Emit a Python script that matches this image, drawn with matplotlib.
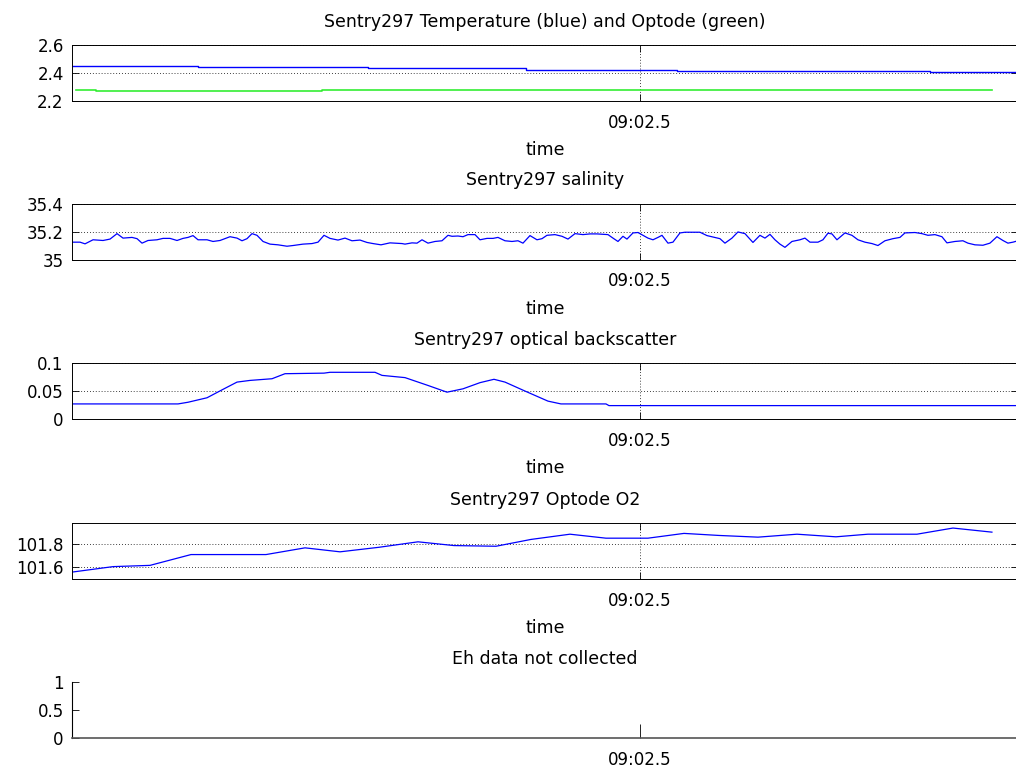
import matplotlib
matplotlib.use('Agg')
import matplotlib.pyplot as plt
from matplotlib.ticker import FixedLocator, FixedFormatter

# time axis: seconds after 09:00
t_start, t_end = 536.82, 546.28
tick_time = 542.5
tick_label = '09:02.5'

# temperature (step changes)
temp_t = [536.82, 538.08, 539.78, 541.36, 542.87, 544.16, 545.40, 546.28]
temp_v = [2.447, 2.440, 2.433, 2.425, 2.416, 2.411, 2.406, 2.406]
optode_temp_t = [536.86, 537.06, 539.32, 543.52, 546.02]
optode_temp_v = [2.278, 2.268, 2.276, 2.282, 2.282]

# salinity
sal_t = [536.82, 536.90, 536.95, 537.03, 537.13, 537.20, 537.27, 537.33, 537.42, 537.47,
         537.52, 537.58, 537.67, 537.73, 537.80, 537.87, 537.93, 537.98, 538.03, 538.08,
         538.17, 538.23, 538.30, 538.40, 538.47, 538.52, 538.57, 538.62, 538.67, 538.73,
         538.80, 538.88, 538.97, 539.03, 539.13, 539.22, 539.28, 539.34, 539.40, 539.48,
         539.55, 539.62, 539.70, 539.77, 539.83, 539.91, 540.00, 540.12, 540.15, 540.22,
         540.27, 540.32, 540.38, 540.45, 540.52, 540.58, 540.62, 540.68, 540.73, 540.78,
         540.85, 540.90, 540.97, 541.03, 541.08, 541.15, 541.22, 541.28, 541.33, 541.40,
         541.47, 541.52, 541.57, 541.65, 541.72, 541.78, 541.85, 541.93, 542.00, 542.07,
         542.18, 542.23, 542.28, 542.33, 542.37, 542.43, 542.48, 542.53, 542.58, 542.63,
         542.68, 542.72, 542.78, 542.83, 542.90, 542.95, 543.10, 543.17, 543.23, 543.30,
         543.35, 543.42, 543.48, 543.55, 543.63, 543.70, 543.75, 543.80, 543.85, 543.90,
         543.95, 544.02, 544.10, 544.15, 544.20, 544.28, 544.33, 544.38, 544.42, 544.47,
         544.55, 544.62, 544.68, 544.75, 544.82, 544.88, 544.95, 545.03, 545.10, 545.15,
         545.25, 545.32, 545.38, 545.45, 545.52, 545.57, 545.65, 545.73, 545.78, 545.85,
         545.93, 546.00, 546.07, 546.13, 546.18, 546.23, 546.28]
sal_v = [35.124, 35.124, 35.112, 35.141, 35.136, 35.146, 35.185, 35.153, 35.158, 35.149,
         35.117, 35.136, 35.141, 35.151, 35.151, 35.136, 35.151, 35.158, 35.171, 35.141,
         35.141, 35.129, 35.136, 35.163, 35.153, 35.134, 35.149, 35.185, 35.173, 35.129,
         35.110, 35.105, 35.095, 35.100, 35.110, 35.114, 35.124, 35.173, 35.151, 35.139,
         35.153, 35.134, 35.139, 35.122, 35.114, 35.105, 35.119, 35.114, 35.110, 35.119,
         35.117, 35.141, 35.117, 35.129, 35.134, 35.173, 35.166, 35.168, 35.163, 35.178,
         35.178, 35.141, 35.151, 35.151, 35.158, 35.134, 35.129, 35.134, 35.117, 35.171,
         35.141, 35.149, 35.173, 35.178, 35.166, 35.146, 35.185, 35.178, 35.183, 35.183,
         35.178, 35.153, 35.129, 35.166, 35.146, 35.190, 35.193, 35.173, 35.153, 35.141,
         35.158, 35.173, 35.117, 35.124, 35.190, 35.195, 35.195, 35.171, 35.161, 35.149,
         35.117, 35.153, 35.197, 35.185, 35.122, 35.173, 35.153, 35.180, 35.141, 35.110,
         35.087, 35.129, 35.141, 35.153, 35.124, 35.124, 35.141, 35.188, 35.183, 35.141,
         35.190, 35.173, 35.141, 35.124, 35.114, 35.100, 35.134, 35.149, 35.158, 35.190,
         35.193, 35.185, 35.173, 35.178, 35.163, 35.119, 35.129, 35.134, 35.117, 35.105,
         35.102, 35.117, 35.163, 35.136, 35.117, 35.124, 35.134]

# optical backscatter
obs_t = [536.82, 537.88, 537.98, 538.17, 538.34, 538.47, 538.60, 538.82, 538.95, 539.34,
         539.40, 539.85, 539.92, 540.15, 540.38, 540.57, 540.73, 540.90, 541.04, 541.15,
         541.35, 541.58, 541.71, 542.16, 542.19, 546.28]
obs_v = [0.027, 0.027, 0.030, 0.038, 0.054, 0.066, 0.069, 0.072, 0.081, 0.082,
         0.0835, 0.0835, 0.078, 0.074, 0.060, 0.048, 0.054, 0.065, 0.071, 0.066,
         0.050, 0.032, 0.027, 0.027, 0.024, 0.024]

# optode O2
o2_t = [536.83, 537.23, 537.60, 538.01, 538.76, 539.15, 539.50, 539.89, 540.28, 540.64,
        541.06, 541.41, 541.80, 542.16, 542.58, 542.94, 543.29, 543.68, 544.07, 544.46,
        544.78, 545.27, 545.63, 546.02]
o2_v = [101.556, 101.603, 101.614, 101.709, 101.709, 101.768, 101.733, 101.773, 101.821, 101.788,
        101.782, 101.842, 101.888, 101.853, 101.853, 101.895, 101.877, 101.862, 101.888, 101.865,
        101.888, 101.888, 101.942, 101.906]

titles = ['Sentry297 Temperature (blue) and Optode (green)', 'Sentry297 salinity',
          'Sentry297 optical backscatter', 'Sentry297 Optode O2', 'Eh data not collected']
ylims = [(2.2, 2.6), (35.0, 35.4), (0, 0.1), (101.494, 101.986), (0, 1)]
yticks = [[2.2, 2.4, 2.6], [35.0, 35.2, 35.4], [0, 0.05, 0.1], [101.6, 101.8], [0, 0.5, 1]]
yticklabels = [['2.2', '2.4', '2.6'], ['35', '35.2', '35.4'], ['0', '0.05', '0.1'],
               ['101.6', '101.8'], ['0', '0.5', '1']]

fig = plt.figure(figsize=(10.16, 7.71), dpi=100)
bottoms = [0.8690, 0.6634, 0.4565, 0.2490, 0.0424]
grid_style = dict(color='black', linestyle=(0, (1, 2.5)), linewidth=0.6)

axes = []
for i, b in enumerate(bottoms):
    ax = fig.add_axes([0.0709, b, 0.931, 0.0726])
    ax.set_xlim(t_start, t_end)
    ax.set_ylim(*ylims[i])
    ax.xaxis.set_major_locator(FixedLocator([tick_time]))
    ax.xaxis.set_major_formatter(FixedFormatter([tick_label]))
    ax.yaxis.set_major_locator(FixedLocator(yticks[i]))
    ax.yaxis.set_major_formatter(FixedFormatter(yticklabels[i]))
    ax.tick_params(direction='in', length=5, width=0.6, labelsize=12)
    ax.tick_params(axis='x', pad=9)
    ax.tick_params(axis='y', pad=6)
    ax.set_title(titles[i], fontsize=12.5, pad=13)
    if i < 4:
        ax.tick_params(top=True, right=True)
        ax.grid(True, **grid_style)
        ax.set_xlabel('time', fontsize=12.5, labelpad=7)
        for s in ax.spines.values():
            s.set_linewidth(0.7)
    else:
        ax.spines['top'].set_visible(False)
        ax.spines['right'].set_visible(False)
        ax.spines['bottom'].set_color('#555555')
        ax.spines['bottom'].set_linewidth(1.2)
        ax.tick_params(axis='x', length=10)
    axes.append(ax)

axes[0].plot(temp_t, temp_v, color='blue', linewidth=1, drawstyle='steps-post')
axes[0].plot(optode_temp_t, optode_temp_v, color='#33ee33', linewidth=1.2, drawstyle='steps-post')
axes[1].plot(sal_t, sal_v, color='blue', linewidth=0.9)
axes[2].plot(obs_t, obs_v, color='blue', linewidth=0.9)
axes[3].plot(o2_t, o2_v, color='blue', linewidth=0.9)

fig.savefig('out.png', dpi=100)
